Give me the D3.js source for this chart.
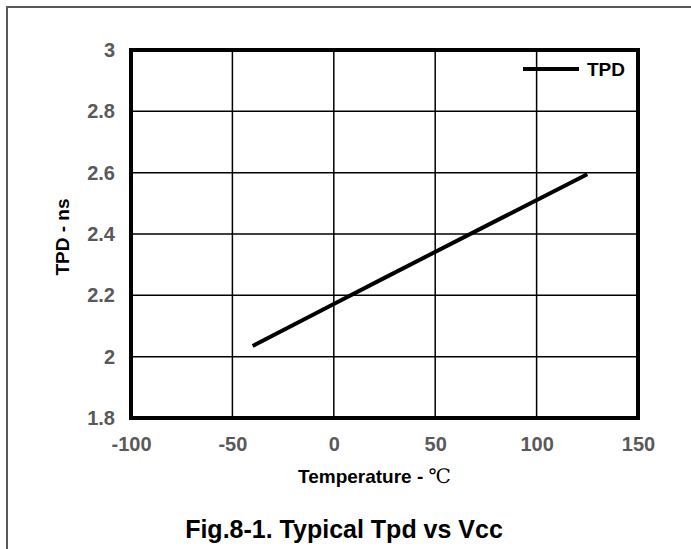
<!DOCTYPE html>
<html>
<head>
<meta charset="utf-8">
<script src="https://cdn.jsdelivr.net/npm/d3@7"></script>
<style>
  body { margin: 0; background: #fff; }
  svg { display: block; font-family: Arial, "Liberation Sans", sans-serif; }
</style>
</head>
<body>
<div id="chart"></div>
<script>
// chart data
const temps = [-40, 0, 25, 85, 125];
const tpd = [2.035, 2.172, 2.257, 2.46, 2.595];
const xTicks = [-100, -50, 0, 50, 100, 150];
const yTicks = [1.8, 2, 2.2, 2.4, 2.6, 2.8, 3];
const seriesName = "TPD";

const width = 691, height = 549;
const margins = {top: 50, right: 53, bottom: 131, left: 131};

const svg = d3.select("#chart").append("svg")
    .attr("width", width)
    .attr("height", height);

// outer frame (left + top only, rest is clipped in the source)
svg.append("path")
    .attr("d", `M7,${height} V7 H${width}`)
    .attr("fill", "none")
    .attr("stroke", "#595959")
    .attr("stroke-width", 2);

const x = d3.scaleLinear().domain([-100, 150]).range([margins.left, width - margins.right]);
const y = d3.scaleLinear().domain([1.8, 3]).range([height - margins.bottom, margins.top]);

// grid
svg.append("g").selectAll("line")
    .data(xTicks)
    .join("line")
    .attr("x1", d => x(d)).attr("x2", d => x(d))
    .attr("y1", y(3)).attr("y2", y(1.8))
    .attr("stroke", "#000").attr("stroke-width", 1.5);

svg.append("g").selectAll("line")
    .data(yTicks)
    .join("line")
    .attr("x1", x(-100)).attr("x2", x(150))
    .attr("y1", d => y(d)).attr("y2", d => y(d))
    .attr("stroke", "#000").attr("stroke-width", 1.5);

// plot border
svg.append("rect")
    .attr("x", x(-100)).attr("y", y(3))
    .attr("width", x(150) - x(-100))
    .attr("height", y(1.8) - y(3))
    .attr("fill", "none")
    .attr("stroke", "#000")
    .attr("stroke-width", 4);

// tick labels (d3 axes, domain and tick marks hidden)
const xAxis = svg.append("g")
    .attr("transform", `translate(0,${y(1.8)})`)
    .call(d3.axisBottom(x).tickValues(xTicks).tickSize(0).tickPadding(19).tickFormat(d => String(d)));
const yAxis = svg.append("g")
    .attr("transform", `translate(${x(-100)},0)`)
    .call(d3.axisLeft(y).tickValues(yTicks).tickSize(0).tickPadding(16).tickFormat(d => String(d)));

[xAxis, yAxis].forEach(g => {
    g.select(".domain").remove();
    g.selectAll("text")
        .attr("fill", "#595959")
        .style("font-size", "20px")
        .style("font-weight", "bold")
        .style("font-family", "Arial, 'Liberation Sans', sans-serif");
});

// series line
const line = d3.line()
    .x((d, i) => x(temps[i]))
    .y(d => y(d));

svg.append("path")
    .datum(tpd)
    .attr("d", line)
    .attr("fill", "none")
    .attr("stroke", "#000")
    .attr("stroke-width", 4);

// legend
svg.append("line")
    .attr("x1", 523).attr("x2", 579)
    .attr("y1", 69).attr("y2", 69)
    .attr("stroke", "#000").attr("stroke-width", 4);
svg.append("text")
    .attr("x", 587).attr("y", 76)
    .style("font-size", "19px").style("font-weight", "bold")
    .text(seriesName);

// axis titles
const xTitle = svg.append("text")
    .attr("x", 298).attr("y", 483)
    .style("font-size", "19px").style("font-weight", "bold");
xTitle.append("tspan").text("Temperature - ");
xTitle.append("tspan")
    .style("font-family", "'Liberation Serif', 'DejaVu Serif', serif")
    .style("font-weight", "normal")
    .style("font-size", "20px")
    .text("℃");

svg.append("text")
    .attr("transform", `translate(69,${(y(3) + y(1.8)) / 2 + 3}) rotate(-90)`)
    .attr("text-anchor", "middle")
    .style("font-size", "19px").style("font-weight", "bold")
    .text("TPD - ns");

// figure caption
svg.append("text")
    .attr("x", 344).attr("y", 538)
    .attr("text-anchor", "middle")
    .style("font-size", "25px").style("font-weight", "bold")
    .text("Fig.8-1. Typical Tpd vs Vcc");
</script>
</body>
</html>
